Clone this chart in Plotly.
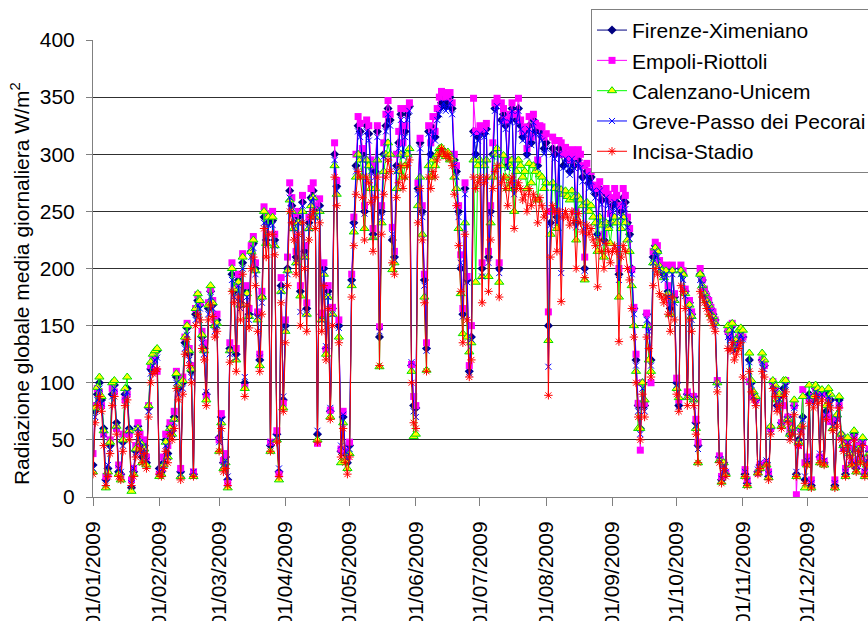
import pandas as pd
import plotly.graph_objects as go

dates = pd.date_range("2009-01-01", "2009-12-31", freq="D")

firenze = [
    28,75,90,100,85,60,15,25,45,90,98,65,22,20,48,90,95,60,8,22,40,62,50,35,45,30,78,112,118,122,128,
    25,22,30,50,38,62,58,70,105,95,22,100,135,148,125,110,20,160,172,168,140,130,90,165,180,168,150,155,
    52,70,30,35,15,130,195,180,125,190,170,205,100,180,160,215,222,200,160,120,175,245,225,240,45,242,225,55,22,185,85,
    150,200,268,255,240,210,245,180,258,215,165,240,262,268,250,55,255,160,200,130,180,75,165,300,272,150,40,70,38,30,
    45,190,240,290,325,320,300,250,325,318,290,230,285,320,140,250,300,325,340,330,225,210,290,310,335,300,320,335,342,115,80,
    78,270,310,250,190,130,320,300,323,315,333,340,345,348,342,345,350,340,295,285,250,200,160,270,190,110,140,320,300,315,
    320,200,318,322,210,250,300,340,345,200,330,335,325,290,330,340,270,330,340,325,315,320,300,325,310,330,320,290,320,315,305,
    310,150,240,305,300,245,305,300,290,300,295,285,300,290,240,295,290,280,200,285,275,280,270,265,230,270,260,225,265,260,240,
    255,262,258,195,250,262,258,240,230,200,165,120,80,60,100,80,160,150,120,210,220,215,205,200,195,200,180,165,200,175,
    100,80,200,195,180,90,170,160,88,65,45,195,190,180,175,170,165,160,155,100,35,15,30,20,145,140,150,130,135,140,145,
    140,20,12,120,100,90,85,22,28,120,115,30,18,60,100,95,80,88,65,95,100,70,55,60,80,20,50,60,70,15,
    30,90,10,85,95,90,35,92,30,75,90,85,65,10,70,85,55,45,20,50,40,30,55,25,45,35,50,20,30,40,25,
]

empoli = [
    38,80,95,92,80,55,18,20,50,95,92,60,28,18,55,85,90,55,15,25,45,65,55,40,50,35,80,115,120,125,110,
    20,25,35,55,45,65,60,75,110,100,25,105,140,152,130,115,22,165,177,170,145,135,88,170,182,172,155,160,
    50,73,32,38,12,135,205,185,130,195,175,213,96,185,165,220,228,205,162,125,180,254,230,248,48,250,230,58,20,192,82,
    155,210,275,262,248,215,250,185,264,220,170,245,270,275,255,47,261,161,205,129,185,76,166,310,277,155,42,75,40,35,
    48,195,245,300,333,327,305,255,330,325,295,235,290,325,149,255,310,335,347,335,236,215,300,320,340,310,325,340,345,116,88,
    80,275,314,255,195,135,325,310,333,320,340,350,355,354,350,352,354,345,300,290,255,212,165,275,193,115,150,349,320,320,
    325,205,322,327,215,255,310,345,349,205,345,340,330,295,335,345,275,335,349,330,320,324,305,333,315,335,327,295,325,324,315,
    318,162,250,315,312,250,312,310,300,306,300,295,304,298,250,304,300,290,210,292,285,285,273,270,240,276,268,230,270,265,248,
    262,270,264,200,255,270,264,245,235,199,166,125,82,41,100,82,161,149,100,215,223,220,207,201,199,203,185,170,203,178,
    104,85,203,198,182,92,172,162,88,68,48,200,190,182,176,172,166,162,155,102,36,18,30,21,145,140,152,133,135,140,140,
    140,24,15,101,89,88,85,21,28,120,115,30,22,60,101,95,89,80,65,80,102,70,59,62,80,2,45,60,94,30,
    35,85,15,88,95,92,35,90,31,70,85,66,69,15,69,80,53,43,25,48,42,30,52,28,45,32,48,22,30,42,28,
]

calenzano = [
    22,78,96,105,88,58,8,22,48,100,102,62,20,15,50,95,105,58,5,20,42,60,48,30,42,28,80,118,125,128,130,
    18,20,28,48,35,60,55,68,108,98,18,102,140,150,128,112,18,165,178,172,142,128,85,168,185,170,150,152,
    40,65,25,30,8,128,200,182,120,188,168,210,95,178,158,215,225,198,155,115,175,250,222,245,40,245,220,50,15,180,78,
    145,198,260,250,235,205,240,176,250,210,160,235,255,262,245,50,250,155,195,125,175,70,160,290,265,140,30,65,32,25,
    38,185,232,280,300,295,280,235,295,290,270,227,270,295,114,240,285,300,310,300,199,205,270,285,300,280,290,300,305,110,53,
    55,255,280,230,175,111,290,280,295,290,300,305,306,300,298,302,295,296,280,270,235,178,143,240,140,127,135,295,188,290,
    295,193,290,295,193,240,280,300,305,188,290,299,280,270,290,295,250,285,295,290,280,285,270,292,275,290,285,260,282,280,270,
    275,137,230,275,270,235,270,269,265,268,263,260,268,262,225,263,260,255,190,258,250,255,245,240,215,245,238,210,240,235,222,
    240,245,240,175,235,245,240,225,215,185,150,110,60,60,100,85,150,120,110,205,218,215,202,198,192,198,178,160,198,172,
    95,87,198,195,178,87,168,158,85,60,30,195,185,178,172,168,160,158,152,100,32,13,30,20,150,146,152,130,138,146,148,
    146,18,10,126,102,92,88,21,25,126,120,28,17,62,102,98,85,90,62,102,102,68,55,60,85,18,48,62,88,8,
    28,98,8,88,98,95,30,94,28,80,95,90,60,8,72,88,55,45,18,52,38,28,58,22,42,30,52,18,28,38,22,
]

greve = [
    25,70,85,95,82,55,12,28,42,88,95,62,25,22,45,88,92,58,12,25,38,60,48,38,42,32,75,108,115,120,122,
    22,20,28,45,35,58,55,65,100,90,20,95,130,142,120,105,22,155,168,165,135,125,92,160,175,165,145,150,
    48,68,28,32,18,125,190,175,122,185,165,200,105,175,155,210,218,195,158,122,170,240,220,238,48,238,220,52,25,180,88,
    148,195,262,250,235,205,240,162,255,210,160,235,258,262,245,58,252,155,198,132,175,78,160,295,268,148,45,72,40,32,
    42,188,238,285,320,315,295,248,320,312,285,228,280,315,145,245,298,320,335,325,230,208,285,305,330,298,315,330,338,118,75,
    70,265,305,245,185,128,318,298,320,312,330,335,340,345,338,340,345,335,290,280,245,205,158,265,188,108,138,318,298,312,
    318,193,315,320,205,248,298,338,342,196,328,332,322,288,328,338,265,328,338,322,312,318,298,322,308,328,318,288,318,312,300,
    305,114,238,300,296,240,300,196,288,296,290,282,296,288,236,292,288,276,198,282,270,276,268,262,228,268,256,222,262,255,238,
    250,258,252,190,245,258,252,236,226,195,160,115,75,55,95,75,155,145,115,205,215,210,200,195,190,195,175,160,195,170,
    98,79,195,190,176,88,165,155,86,62,42,190,186,176,170,166,162,156,150,98,33,16,28,22,140,138,146,128,132,138,142,
    138,22,14,118,98,88,82,24,30,118,112,32,20,58,98,92,78,86,62,92,98,68,52,58,78,22,48,58,68,18,
    32,88,12,82,92,88,38,90,32,72,88,82,62,12,68,82,52,42,22,48,38,32,52,28,42,38,48,22,32,38,28,
]

incisa = [
    20,65,80,88,75,45,10,18,38,80,88,55,18,15,40,80,85,50,10,18,35,55,42,30,38,25,70,100,108,110,112,
    20,18,25,40,30,55,50,60,95,85,15,90,125,138,115,100,18,150,160,155,130,120,80,155,168,158,140,145,
    40,60,22,25,10,118,180,170,110,175,155,195,88,168,148,200,210,185,145,110,160,235,210,230,40,230,212,48,18,170,75,
    135,185,250,240,225,195,230,150,240,200,145,225,245,250,235,48,240,145,185,120,165,68,150,280,255,135,35,60,30,20,
    35,175,220,265,285,280,262,225,280,275,258,215,262,280,115,230,265,280,295,285,205,195,262,275,290,270,280,290,295,100,65,
    60,240,270,225,170,110,280,270,285,280,295,300,305,302,298,300,296,290,265,255,220,180,135,230,155,105,120,280,270,275,
    280,170,275,280,180,225,270,285,290,175,275,280,270,255,275,280,235,270,275,270,260,265,250,270,255,265,260,240,262,255,245,
    250,89,210,255,250,215,250,171,245,250,245,238,250,242,200,248,240,232,192,238,230,235,225,220,184,225,215,200,222,215,205,
    215,220,215,136,210,220,215,200,190,165,140,100,70,50,90,70,140,130,105,185,200,195,178,175,170,175,160,145,175,155,
    90,75,185,180,165,80,155,145,80,55,30,180,175,170,165,160,155,150,145,92,30,12,25,18,130,128,135,120,125,130,135,
    105,18,10,110,92,85,80,20,25,110,105,28,15,55,95,88,75,80,60,88,92,65,50,55,72,18,45,55,62,12,
    28,82,8,78,88,82,30,85,28,68,82,78,58,8,62,78,50,40,18,45,35,28,50,22,40,30,45,18,28,35,20,
]

month_ticks = pd.date_range("2009-01-01", "2009-12-01", freq="MS")
month_labels = [d.strftime("%d/%m/%Y") for d in month_ticks]
y_ticks = [0, 50, 100, 150, 200, 250, 300, 350, 400]
y_title = "Radiazione globale media giornaliera W/m<sup>2</sup>"

series = [
    ("Firenze-Ximeniano", firenze, "#000080", dict(symbol="diamond", size=7, color="#000080")),
    ("Empoli-Riottoli", empoli, "#FF00FF", dict(symbol="square", size=7, color="#FF00FF")),
    ("Calenzano-Unicem", calenzano, "#00FF00", dict(symbol="triangle-up", size=8, color="#FFFF00",
                                                 line=dict(color="#00DD00", width=1))),
    ("Greve-Passo dei Pecorai", greve, "#0000FF", dict(symbol="x-thin", size=6, color="#0000FF",
                                                      line=dict(color="#0000FF", width=1))),
    ("Incisa-Stadio", incisa, "#FF0000", dict(symbol="asterisk", size=7, color="#FF0000",
                                              line=dict(color="#FF0000", width=1))),
]

fig = go.Figure()
for name, vals, col, mk in series:
    fig.add_trace(go.Scatter(x=dates, y=vals, name=name, mode="lines+markers",
                             line=dict(color=col, width=1), marker=mk))

FONT = "Liberation Sans, Arial, sans-serif"
fig.update_layout(
    width=868, height=621,
    margin=dict(l=93, r=0, t=40, b=124, autoexpand=False),
    paper_bgcolor="white", plot_bgcolor="white",
    font=dict(family=FONT, size=21, color="black"),
    showlegend=True,
    legend=dict(x=0.6426, y=1.068, xanchor="left", yanchor="top",
                bgcolor="white", bordercolor="#808080", borderwidth=1,
                font=dict(family=FONT, size=21, color="black"),
                tracegroupgap=0, itemwidth=30),
    xaxis=dict(type="date", range=["2009-01-01", "2009-12-29 12:00"], automargin=False,
               tickvals=list(month_ticks), ticktext=month_labels, tickangle=-90,
               showgrid=False, showline=True, linecolor="#808080", linewidth=1,
               ticks="outside", ticklen=8, tickcolor="#808080", ticklabelstandoff=7,
               tickfont=dict(family=FONT, size=21, color="black"), zeroline=False),
    yaxis=dict(range=[0, 400], tickvals=y_ticks, showgrid=True, gridcolor="#303030", gridwidth=1,
               automargin=False,
               showline=True, linecolor="#808080", linewidth=1, ticks="outside", ticklen=6,
               tickcolor="#808080", ticklabelstandoff=7,
               tickfont=dict(family=FONT, size=21, color="black"), zeroline=False),
    annotations=[dict(text=y_title, textangle=-90, xref="paper", yref="paper",
                      x=-0.0942, y=0.468, xanchor="center", yanchor="middle", showarrow=False,
                      font=dict(family=FONT, size=21, color="black"))],
)

fig.write_html("out.html")
